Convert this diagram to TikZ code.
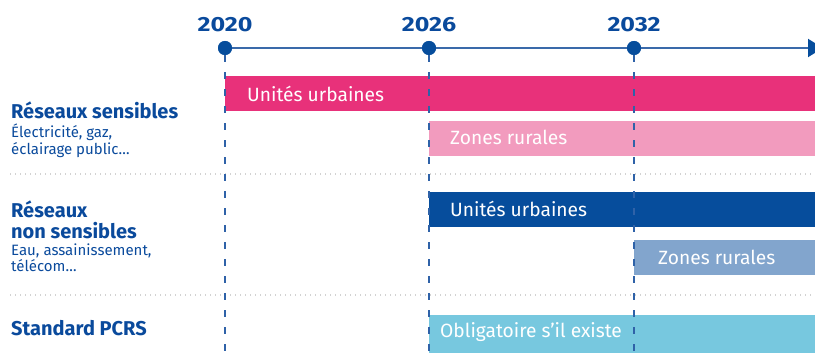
\documentclass[tikz,border=0pt]{standalone}
\usepackage{fontspec}
\setmainfont{Fira Sans}
\newfontfamily\yearfont[FakeStretch=1.22]{Fira Sans}
\usetikzlibrary{arrows.meta}
\definecolor{tblue}{HTML}{0A4A9C}
\definecolor{dblue}{HTML}{064D9C}
\definecolor{lblue}{HTML}{82A5CD}
\definecolor{pinkA}{HTML}{E8317A}
\definecolor{pinkB}{HTML}{F29BBE}
\definecolor{cyanA}{HTML}{77C8DF}
\definecolor{lineblue}{HTML}{3A6AAA}
\definecolor{dashblue}{HTML}{2F62A8}
\tikzset{
  bartext/.style={anchor=base west, inner sep=0pt, text=white, font=\fontsize{19.2}{22}\selectfont},
  year/.style={anchor=base, inner sep=0pt, text=tblue, font=\yearfont\bfseries\fontsize{20.5}{24}\selectfont},
  head/.style={anchor=base west, inner sep=0pt, text=tblue, font=\bfseries\fontsize{20}{23}\selectfont},
  sub/.style={anchor=base west, inner sep=0pt, text=tblue, font=\fontsize{15}{18}\selectfont},
  dot/.style={circle, fill=dblue, minimum size=14pt, inner sep=0pt},
  guide/.style={dashblue, line width=1.2pt, dash pattern=on 7pt off 10pt},
  sep/.style={gray!35, line width=1.3pt, dash pattern=on 1.3pt off 3.7pt}
}
\begin{document}
\begin{tikzpicture}[x=1pt,y=-1pt]
\useasboundingbox (0,0) rectangle (815,353);
% bars
\fill[pinkA] (225,76) rectangle (815,111);
\fill[pinkB] (429,121) rectangle (815,156);
\fill[dblue] (429,192) rectangle (815,227);
\fill[lblue] (634,240) rectangle (815,275);
\fill[cyanA] (429,315) rectangle (815,353);
% separators
\coordinate (s1a) at (10,174); \coordinate (s1b) at (815,174);
\coordinate (s2a) at (10,295); \coordinate (s2b) at (815,295);
\draw[sep] (s1a) -- (s1b);
\draw[sep] (s2a) -- (s2b);
% timeline
\node[dot] (d1) at (225,48) {};
\node[dot] (d2) at (429,48) {};
\node[dot] (d3) at (634,48) {};
\coordinate (tend) at (823,48);
\draw[lineblue, line width=2pt, -{Triangle[length=15pt,width=18pt,color=dblue]}] (d1.center) -- (tend);
\node[dot] at (d1) {};
\node[dot] at (d2) {};
\node[dot] at (d3) {};
% guides
\coordinate (g1) at (225,353); \coordinate (g2) at (429,353); \coordinate (g3) at (634,353);
\draw[guide] (d1.south) -- (g1);
\draw[guide] (d2.south) -- (g2);
\draw[guide] (d3.south) -- (g3);
% years
\node[year] (y1) at (225,32) {2020};
\node[year] (y2) at (429,32) {2026};
\node[year] (y3) at (634,32) {2032};
% bar labels
\node[bartext] (b1) at (247,102) {Unités urbaines};
\node[bartext] (b2) at (450,145) {Zones rurales};
\node[bartext] (b3) at (450,216) {Unités urbaines};
\node[bartext] (b4) at (658,264) {Zones rurales};
\node[bartext] (b5) at (440,337) {Obligatoire s’il existe};
% left labels
\node[head] (h1) at (11,119) {Réseaux sensibles};
\node[sub] (h1a) at (11,137) {Électricité, gaz,};
\node[sub] (h1b) at (11,154) {éclairage public…};
\node[head] (h2) at (11,217) {Réseaux};
\node[head] (h2b) at (11,238) {non sensibles};
\node[sub] (h2c) at (11,255) {Eau, assainissement,};
\node[sub] (h2d) at (11,271) {télécom…};
\node[head] (h3) at (11,335) {Standard PCRS};
\end{tikzpicture}
\end{document}
